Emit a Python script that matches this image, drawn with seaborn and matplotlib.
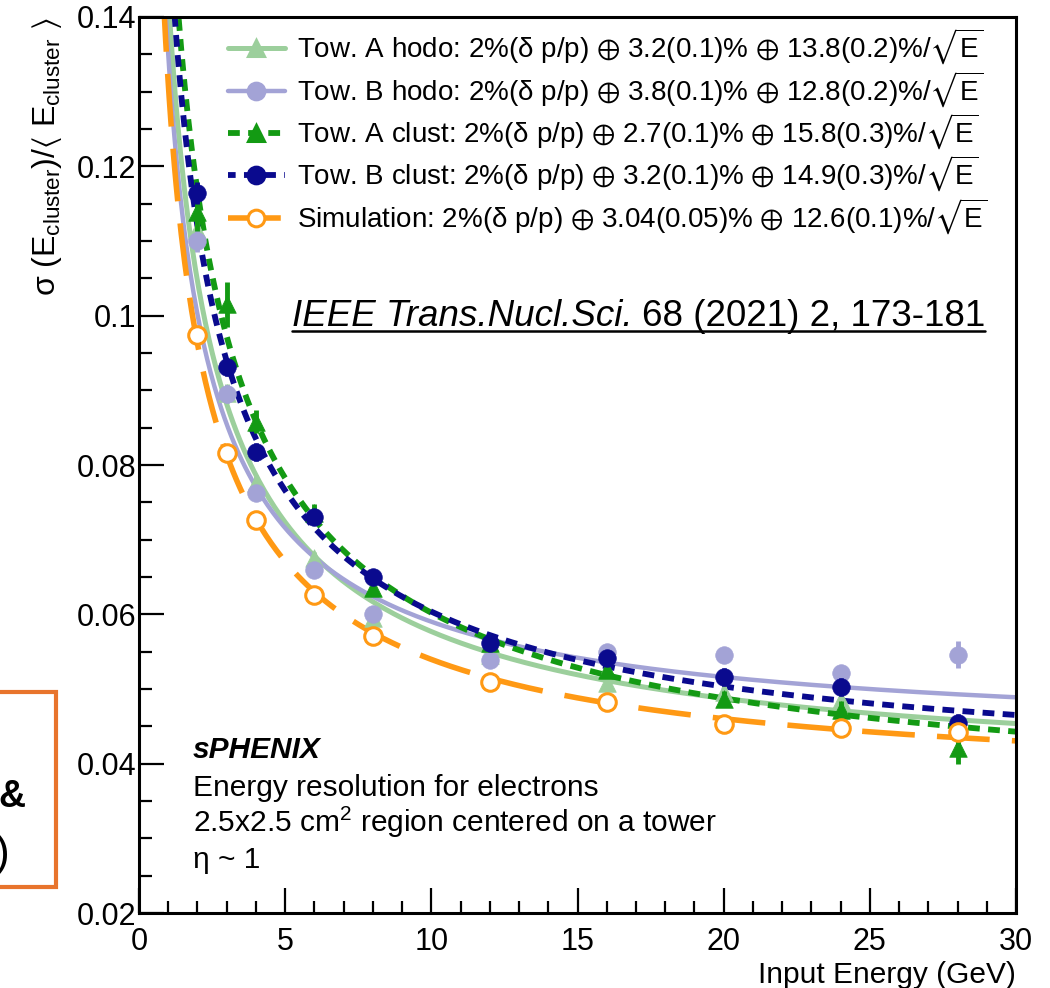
import numpy as np
import seaborn as sns
import matplotlib.pyplot as plt
from matplotlib.lines import Line2D
from matplotlib.patches import Rectangle

# beam energies (GeV)
energy = [2, 3, 4, 6, 8, 12, 16, 20, 24, 28]

# measured resolution sigma/<E>
tow_a_hodo = [0.1115, 0.0896, 0.0776, 0.0676, 0.0595, 0.0545, 0.0508, 0.0496, 0.0485, 0.0452]
tow_b_hodo = [0.1100, 0.0895, 0.0763, 0.0659, 0.0600, 0.0539, 0.0550, 0.0546, 0.0521, 0.0546]
tow_a_clust = [0.1139, 0.1015, 0.0858, 0.0736, 0.0635, 0.0562, 0.0526, 0.0487, 0.0472, 0.0421]
tow_b_clust = [0.1164, 0.0931, 0.0817, 0.0731, 0.0650, 0.0562, 0.0542, 0.0516, 0.0503, 0.0455]
simulation = [0.0974, 0.0816, 0.0726, 0.0626, 0.0571, 0.0509, 0.0483, 0.0453, 0.0448, 0.0443]

tow_a_hodo_err = [0.0015, 0.0012, 0.0010, 0.0008, 0.0008, 0.0008, 0.0008, 0.0008, 0.0008, 0.0010]
tow_b_hodo_err = [0.0015, 0.0012, 0.0010, 0.0008, 0.0008, 0.0008, 0.0008, 0.0008, 0.0010, 0.0018]
tow_a_clust_err = [0.0025, 0.0030, 0.0015, 0.0012, 0.0010, 0.0010, 0.0010, 0.0010, 0.0012, 0.0022]
tow_b_clust_err = [0.0015, 0.0012, 0.0012, 0.0010, 0.0010, 0.0008, 0.0008, 0.0012, 0.0012, 0.0012]
simulation_err = [0.0004, 0.0004, 0.0004, 0.0003, 0.0003, 0.0003, 0.0003, 0.0003, 0.0003, 0.0003]

# fit results quoted in the legend (%)
beam_term = 2.0
fit_const = [3.2, 3.8, 2.7, 3.2, 3.04]
fit_stoch = [13.8, 12.8, 15.8, 14.9, 12.6]

labels = [
    'Tow. A hodo: 2%(δ p/p) $\\oplus$ 3.2(0.1)% $\\oplus$ 13.8(0.2)%/$\\sqrt{\\rm E}$',
    'Tow. B hodo: 2%(δ p/p) $\\oplus$ 3.8(0.1)% $\\oplus$ 12.8(0.2)%/$\\sqrt{\\rm E}$',
    'Tow. A clust: 2%(δ p/p) $\\oplus$ 2.7(0.1)% $\\oplus$ 15.8(0.3)%/$\\sqrt{\\rm E}$',
    'Tow. B clust: 2%(δ p/p) $\\oplus$ 3.2(0.1)% $\\oplus$ 14.9(0.3)%/$\\sqrt{\\rm E}$',
    'Simulation: 2%(δ p/p) $\\oplus$ 3.04(0.05)% $\\oplus$ 12.6(0.1)%/$\\sqrt{\\rm E}$',
]

y_ticks = [0.02, 0.04, 0.06, 0.08, 0.1, 0.12, 0.14]
y_tick_labels = ['0.02', '0.04', '0.06', '0.08', '0.1', '0.12', '0.14']
x_ticks = [0, 5, 10, 15, 20, 25, 30]


sns.set_style('ticks')
plt.rcParams['font.family'] = ['Liberation Sans', 'DejaVu Sans']
plt.rcParams['text.color'] = 'black'
plt.rcParams['mathtext.fontset'] = 'custom'
plt.rcParams['mathtext.rm'] = 'Liberation Sans'
plt.rcParams['mathtext.it'] = 'Liberation Sans:italic'
plt.rcParams['mathtext.bf'] = 'Liberation Sans:bold'
plt.rcParams['mathtext.fallback'] = 'stixsans'
plt.rcParams['lines.scale_dashes'] = False

fig = plt.figure(figsize=(10.5, 9.88), dpi=100)
ax = fig.add_axes([139 / 1050, 1 - 913 / 988, 877 / 1050, 896 / 988])

series = [tow_a_hodo, tow_b_hodo, tow_a_clust, tow_b_clust, simulation]
errors = [tow_a_hodo_err, tow_b_hodo_err, tow_a_clust_err, tow_b_clust_err, simulation_err]
colors = ['#9ccf9c', '#a3a3d6', '#139a13', '#0a0a8e', '#ff9914']
markers = ['^', 'o', '^', 'o', 'o']
styles = ['-', '-', (0, (8.5, 6)), (3, (8.5, 6)), (0, (38, 16))]
widths = [3.6, 3.2, 4.2, 4.2, 4.0]

fit_x = np.linspace(0.5, 30, 500)

handles = []
for i in range(5):
    curve = np.sqrt((beam_term / 100) ** 2 + (fit_const[i] / 100) ** 2
                    + (fit_stoch[i] / 100) ** 2 / fit_x)
    sns.lineplot(x=fit_x, y=curve, ax=ax, color=colors[i], lw=widths[i],
                 linestyle=styles[i], zorder=2 + i * 0.1)
    ax.errorbar(energy, series[i], yerr=errors[i], fmt='none', ecolor=colors[i],
                elinewidth=3.5, capsize=0, zorder=3 + i * 0.1)
    if i == 4:
        sns.scatterplot(x=energy, y=series[i], ax=ax, marker='o', s=160,
                        facecolor='white', edgecolor=colors[i], linewidth=2.2,
                        zorder=3.05 + i * 0.1)
    else:
        sns.scatterplot(x=energy, y=series[i], ax=ax, marker=markers[i], s=160,
                        color=colors[i], edgecolor=colors[i], linewidth=0.5,
                        zorder=3.05 + i * 0.1)
    handles.append(Line2D([0], [0], color=colors[i], lw=widths[i], linestyle=styles[i],
                          marker=markers[i], markersize=12,
                          markerfacecolor='white' if i == 4 else colors[i],
                          markeredgecolor=colors[i], markeredgewidth=2.2))

ax.set_xlim(0, 30)
ax.set_ylim(0.02, 0.14)
ax.set_xticks(x_ticks)
ax.set_xticks(np.arange(0, 31, 1), minor=True)
ax.set_yticks(y_ticks)
ax.set_yticklabels(y_tick_labels)
ax.set_yticks(np.arange(0.02, 0.1401, 0.005), minor=True)
ax.tick_params(which='both', direction='in', width=1.6, top=False, right=False,
               labelsize=22, colors='black')
ax.tick_params(axis='x', which='major', length=18, pad=10)
ax.tick_params(axis='x', which='minor', length=9)
ax.tick_params(axis='y', which='major', length=18, pad=2)
ax.tick_params(axis='y', which='minor', length=9)
for side in ax.spines.values():
    side.set_linewidth(2.2)
    side.set_color('black')
ax.set_xlabel('')
ax.set_ylabel('')

ax.legend(handles, labels, loc='upper left', bbox_to_anchor=(228 / 1050, 1 - 27 / 988),
          bbox_transform=fig.transFigure, frameon=False, fontsize=20,
          handlelength=2.05, handletextpad=0.45, labelspacing=0.08,
          borderpad=0, borderaxespad=0)

fig.text(1016 / 1050, 1 - 983 / 988, 'Input Energy (GeV)', ha='right', va='baseline',
         fontsize=21.5)
fig.text(30 / 1050, 1 - 17 / 988,
         'σ (E$_{\\rm cluster}$)/$\\langle$ E$_{\\rm cluster}$ $\\rangle$',
         rotation=90, ha='left', va='top', fontsize=23)

# journal reference, italic part then plain part, underlined together
ref_a = fig.text(292 / 1050, 1 - 326 / 988, 'IEEE Trans.Nucl.Sci.', ha='left',
                 va='baseline', fontsize=26.5, fontstyle='italic')
fig.canvas.draw()
bb_a = ref_a.get_window_extent(fig.canvas.get_renderer())
ref_b = fig.text((bb_a.x1 + 9) / 1050, 1 - 326 / 988, '68 (2021) 2, 173-181', ha='left',
                 va='baseline', fontsize=26.5)

fig.text(193 / 1050, 1 - 758 / 988, 'sPHENIX', fontsize=21.5, fontweight='bold',
         fontstyle='italic', va='baseline')
fig.text(193 / 1050, 1 - 796 / 988, 'Energy resolution for electrons', fontsize=21.5,
         va='baseline')
fig.text(193 / 1050, 1 - 832 / 988, '2.5x2.5 cm$^{2}$ region centered on a tower',
         fontsize=21.5, va='baseline')
fig.text(193 / 1050, 1 - 868 / 988, 'η ~ 1', fontsize=21.5, va='baseline')

# leftover box from the slide
fig.patches.append(Rectangle((-10 / 1050, 1 - 887 / 988), 66 / 1050, 195 / 988,
                             transform=fig.transFigure, fill=False,
                             edgecolor='#e8742c', lw=3))
fig.text(25 / 1050, 1 - 807 / 988, '&', ha='right', va='baseline', fontsize=27,
         fontweight='bold')
fig.text(9 / 1050, 1 - 866 / 988, ')', ha='right', va='baseline', fontsize=32)

fig.canvas.draw()
bb_b = ref_b.get_window_extent(fig.canvas.get_renderer())
y_line = (1 - 326 / 988) - 5 / 988
fig.add_artist(Line2D([bb_a.x0 / 1050, bb_b.x1 / 1050], [y_line, y_line],
                      transform=fig.transFigure, color='black', lw=1.8))

fig.savefig('out.png', dpi=100)
